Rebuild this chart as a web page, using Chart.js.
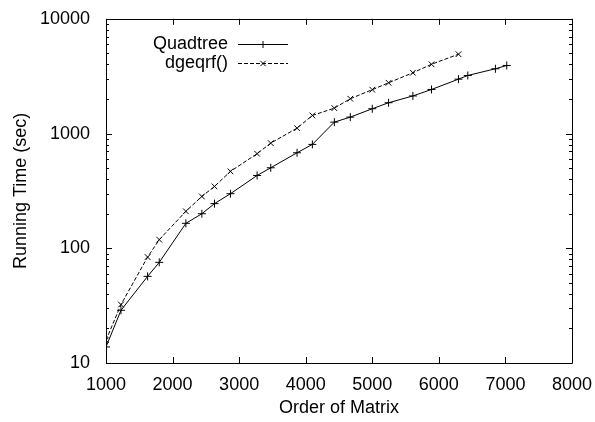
<!DOCTYPE html>
<html>
<head>
<meta charset="utf-8">
<script src="https://cdn.jsdelivr.net/npm/chart.js@4.4.1/dist/chart.umd.min.js"></script>
<style>
html,body{margin:0;padding:0;background:#fff;}
#wrap{position:relative;width:595px;height:422px;}
</style>
</head>
<body>
<div id="wrap"><canvas id="c" width="595" height="422"></canvas></div>
<script>
// ---- data ----
const quadtreeX = [1000,1225,1625,1800,2200,2440,2630,2870,3270,3475,3870,4100,4430,4670,5000,5245,5610,5890,6295,6435,6850,7020];
const quadtreeY = [13.8,28.8,56.9,75.4,165,200,245,299,431,503,680,804,1257,1390,1644,1855,2126,2421,2978,3206,3669,3920];
const dgeqrfX = [1000,1225,1625,1800,2200,2440,2630,2870,3270,3475,3870,4100,4430,4670,5000,5245,5610,5890,6295];
const dgeqrfY = [15.8,32.3,83.8,118.8,210,283,346,468,667,825,1114,1437,1665,2011,2412,2770,3386,4015,4915];
const seriesNames = ['Quadtree','dgeqrf()'];
const xTicks = [1000,2000,3000,4000,5000,6000,7000,8000];
const yMajorTicks = [10,100,1000,10000];
const xTitle = 'Order of Matrix';
const yTitle = 'Running Time (sec)';

const FONT = "'Liberation Sans', Arial, Helvetica, sans-serif";

function pts(xs, ys){ return xs.map((x,i)=>({x:x, y:ys[i]})); }

const yAllTicks = [];
yMajorTicks.forEach((m,i)=>{
  yAllTicks.push({value:m, major:true});
  if (i < yMajorTicks.length-1) for (let k=2;k<=9;k++) yAllTicks.push({value:m*k, major:false});
});

const frame = {
  id:'frame',
  afterDatasetsDraw(chart){
    const {ctx, chartArea:a, scales:{x,y}} = chart;
    ctx.save();
    ctx.strokeStyle='#000'; ctx.lineWidth=1;
    ctx.beginPath();
    ctx.rect(Math.round(a.left)+0.5, Math.round(a.top)+0.5, Math.round(a.right-a.left), Math.round(a.bottom-a.top));
    ctx.stroke();
    ctx.beginPath();
    xTicks.forEach(v=>{
      const p = Math.round(x.getPixelForValue(v))+0.5;
      ctx.moveTo(p,a.bottom); ctx.lineTo(p,a.bottom-6);
      ctx.moveTo(p,a.top); ctx.lineTo(p,a.top+6);
    });
    yAllTicks.forEach(t=>{
      const p = Math.round(y.getPixelForValue(t.value))+0.5;
      const L = t.major?6:3;
      ctx.moveTo(a.left,p); ctx.lineTo(a.left+L,p);
      ctx.moveTo(a.right,p); ctx.lineTo(a.right-L,p);
    });
    ctx.stroke();
    // key
    const rows=[{y:44},{y:62.7}];
    chart.data.datasets.forEach((ds,i)=>{
      const ry = rows[i].y;
      ctx.fillStyle='#000';
      ctx.font = '18px '+FONT;
      ctx.textAlign='right'; ctx.textBaseline='middle';
      ctx.fillText(ds.label, 228, ry);
      ctx.beginPath();
      ctx.setLineDash(ds.borderDash||[]);
      ctx.moveTo(238, Math.round(ry)+0.5); ctx.lineTo(288, Math.round(ry)+0.5);
      ctx.stroke();
      ctx.setLineDash([]);
      const cx=263, cy=Math.round(ry)+0.5, r=3.5;
      ctx.beginPath();
      if (ds.pointStyle==='cross'){ ctx.moveTo(cx-r,cy); ctx.lineTo(cx+r,cy); ctx.moveTo(cx,cy-r); ctx.lineTo(cx,cy+r); }
      else { const d=r*0.75; ctx.moveTo(cx-d,cy-d); ctx.lineTo(cx+d,cy+d); ctx.moveTo(cx-d,cy+d); ctx.lineTo(cx+d,cy-d); }
      ctx.stroke();
    });
    ctx.restore();
  }
};

new Chart(document.getElementById('c'), {
  type:'scatter',
  data:{
    datasets:[
      {label:seriesNames[0], data:pts(quadtreeX,quadtreeY), showLine:true, borderColor:'#000', backgroundColor:'#000',
       borderWidth:1, pointStyle:'cross', pointRadius:4, pointBorderWidth:1, pointBorderColor:'#000'},
      {label:seriesNames[1], data:pts(dgeqrfX,dgeqrfY), showLine:true, borderColor:'#000', backgroundColor:'#000',
       borderWidth:1, borderDash:[4,2], pointStyle:'crossRot', pointRadius:4, pointBorderWidth:1, pointBorderColor:'#000'}
    ]
  },
  options:{
    responsive:false, animation:false, devicePixelRatio:1,
    layout:{padding:{left:0,top:18,right:23,bottom:0}},
    plugins:{legend:{display:false}, tooltip:{enabled:false}},
    elements:{line:{tension:0}},
    scales:{
      x:{type:'linear', min:1000, max:8000,
        grid:{display:false}, border:{display:false},
        afterBuildTicks(s){ s.ticks = xTicks.map(v=>({value:v})); },
        afterFit(s){ s.height = 59; },
        ticks:{autoSkip:false, maxRotation:0, padding:3, color:'#000', font:{family:FONT,size:18},
          callback(v){ return String(v); }},
        title:{display:true, text:xTitle, color:'#000', font:{family:FONT,size:18}, padding:{top:0,bottom:3}}
      },
      y:{type:'logarithmic', min:10, max:10000,
        grid:{display:false}, border:{display:false},
        afterBuildTicks(s){ s.ticks = yAllTicks.map(t=>({value:t.value})); },
        afterFit(s){ s.width = 106; },
        ticks:{autoSkip:false, padding:8, color:'#000', font:{family:FONT,size:18},
          callback(v){ return yMajorTicks.includes(v) ? String(v) : ''; }},
        title:{display:true, text:yTitle, color:'#000', font:{family:FONT,size:18}, padding:{top:10,bottom:0}}
      }
    }
  },
  plugins:[frame]
});
</script>
</body>
</html>
